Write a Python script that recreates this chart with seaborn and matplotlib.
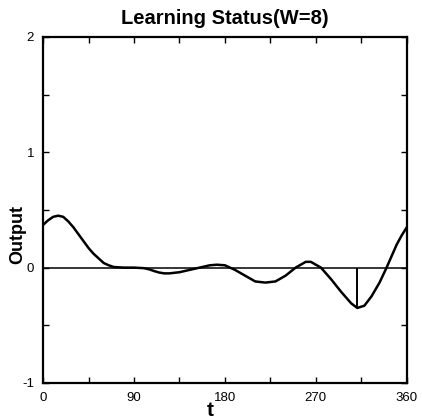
import matplotlib
matplotlib.use("Agg")
import matplotlib.pyplot as plt
import seaborn as sns
import pandas as pd
from matplotlib.ticker import MultipleLocator

t_vals = [0, 5, 10, 15, 20, 25, 30, 35, 40, 45, 50, 55, 60, 65, 70, 80, 90,
          100, 105, 110, 115, 120, 125, 135, 145, 155, 165, 172, 180, 190, 200,
          210, 220, 230, 240, 250, 260, 265, 275, 285, 295, 305, 311, 318,
          325, 333, 340, 350, 355, 360]
output_vals = [0.37, 0.41, 0.44, 0.45, 0.44, 0.40, 0.35, 0.29, 0.23, 0.17,
               0.12, 0.08, 0.04, 0.02, 0.005, 0.0, 0.0, -0.005, -0.015, -0.03,
               -0.043, -0.05, -0.05, -0.04, -0.02, 0.0, 0.02, 0.025, 0.02, -0.02,
               -0.07, -0.12, -0.13, -0.12, -0.07, 0.0, 0.05, 0.05, 0.0, -0.1,
               -0.21, -0.31, -0.35, -0.33, -0.25, -0.13, 0.0, 0.2, 0.28, 0.35]
x_ticks = [0, 90, 180, 270, 360]
y_ticks = [-1, 0, 1, 2]
marker_t = 311
marker_y = -0.35

sns.set_theme(style="ticks")
plt.rcParams['font.family'] = ['Liberation Sans', 'DejaVu Sans']
plt.rcParams['axes.unicode_minus'] = False
for k in ['text.color', 'axes.labelcolor', 'xtick.color', 'ytick.color',
          'axes.edgecolor']:
    plt.rcParams[k] = 'black'

fig = plt.figure(figsize=(4.22, 4.19), dpi=100)
ax = fig.add_axes([0.102, 0.086, 0.862, 0.826])

df = pd.DataFrame({"t": t_vals, "Output": output_vals})
sns.lineplot(data=df, x="t", y="Output", ax=ax, color="black", linewidth=1.8)
ax.axhline(0, color="black", linewidth=1.1)
ax.vlines(marker_t, marker_y, 0, color="black", linewidth=1.4)

ax.set_xlim(0, 360)
ax.set_ylim(-1, 2)
ax.set_xticks(x_ticks)
ax.set_yticks(y_ticks)
ax.xaxis.set_minor_locator(MultipleLocator(45))
ax.yaxis.set_minor_locator(MultipleLocator(0.5))
ax.tick_params(which="both", direction="in", top=True, right=True,
               length=4, width=1.0, labelsize=9.5, pad=6.5, colors="black")
for s in ax.spines.values():
    s.set_linewidth(1.6)
    s.set_color("black")

ax.set_title("Learning Status(W=8)", fontsize=14.5, fontweight="bold", pad=9,
             color="black")
ax.set_xlabel("t", fontsize=15, fontweight="bold", color="black")
ax.set_ylabel("Output", fontsize=13, fontweight="bold", color="black")
ax.xaxis.set_label_coords(0.459, -0.052)
ax.yaxis.set_label_coords(-0.045, 0.43)

fig.savefig("out.png", dpi=100)
